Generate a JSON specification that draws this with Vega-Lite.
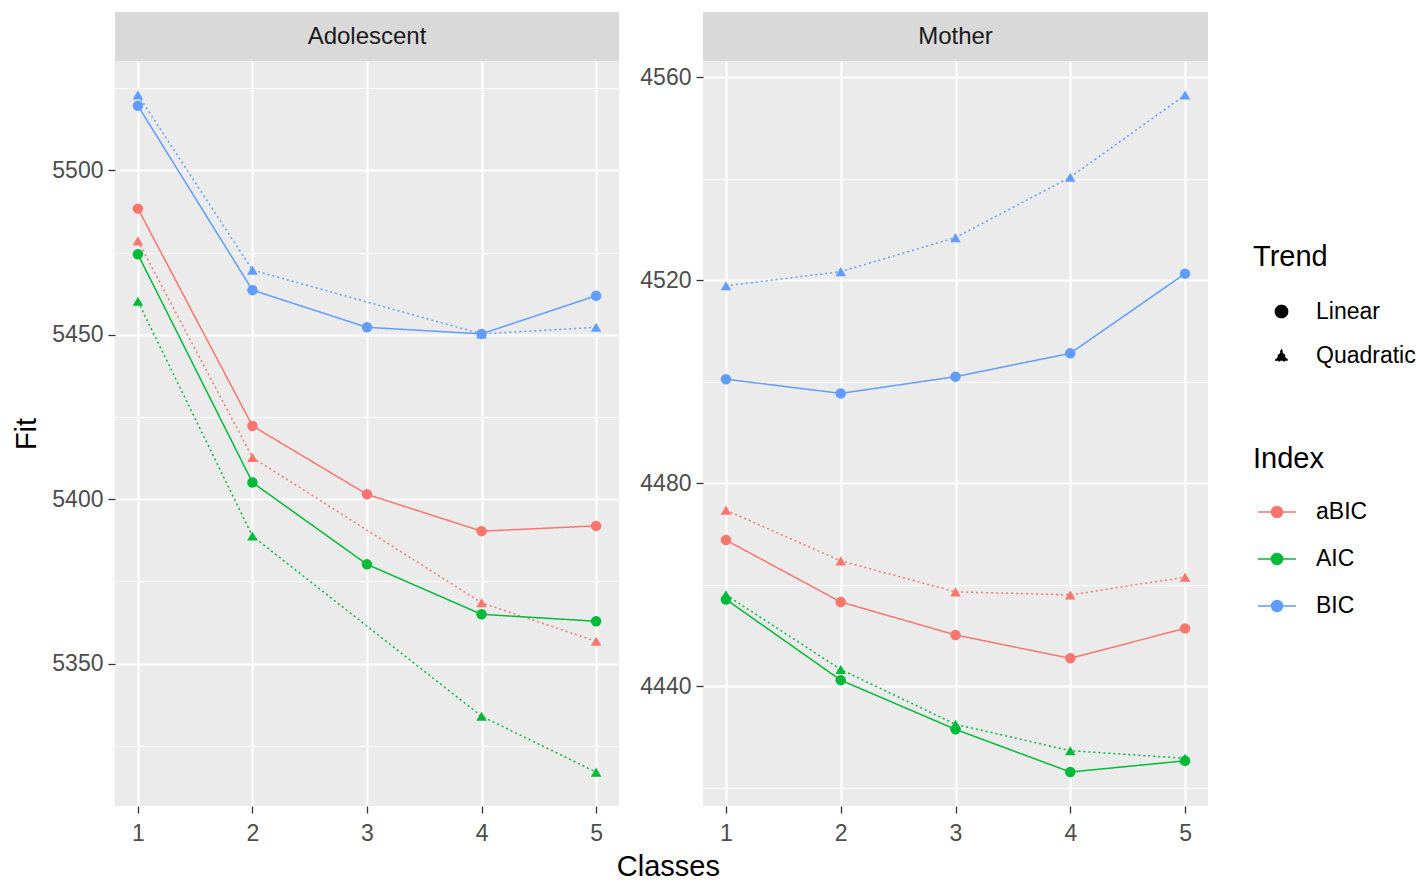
{
  "$schema": "https://vega.github.io/schema/vega-lite/v6.json",
  "autosize": {"type": "pad"},
  "padding": {"left": 12, "top": 12, "right": 5, "bottom": 5},
  "background": "white",
  "datasets": {
    "fit": [
      {"Panel": "Adolescent", "Index": "aBIC", "Trend": "Linear", "Classes": 1, "Fit": 5488.4},
      {"Panel": "Adolescent", "Index": "aBIC", "Trend": "Linear", "Classes": 2, "Fit": 5422.3},
      {"Panel": "Adolescent", "Index": "aBIC", "Trend": "Linear", "Classes": 3, "Fit": 5401.5},
      {"Panel": "Adolescent", "Index": "aBIC", "Trend": "Linear", "Classes": 4, "Fit": 5390.3},
      {"Panel": "Adolescent", "Index": "aBIC", "Trend": "Linear", "Classes": 5, "Fit": 5391.9},
      {"Panel": "Adolescent", "Index": "aBIC", "Trend": "Quadratic", "Classes": 1, "Fit": 5478.6},
      {"Panel": "Adolescent", "Index": "aBIC", "Trend": "Quadratic", "Classes": 2, "Fit": 5412.7},
      {"Panel": "Adolescent", "Index": "aBIC", "Trend": "Quadratic", "Classes": 4, "Fit": 5368.5},
      {"Panel": "Adolescent", "Index": "aBIC", "Trend": "Quadratic", "Classes": 5, "Fit": 5356.8},
      {"Panel": "Adolescent", "Index": "AIC", "Trend": "Linear", "Classes": 1, "Fit": 5474.5},
      {"Panel": "Adolescent", "Index": "AIC", "Trend": "Linear", "Classes": 2, "Fit": 5405.1},
      {"Panel": "Adolescent", "Index": "AIC", "Trend": "Linear", "Classes": 3, "Fit": 5380.2},
      {"Panel": "Adolescent", "Index": "AIC", "Trend": "Linear", "Classes": 4, "Fit": 5365.0},
      {"Panel": "Adolescent", "Index": "AIC", "Trend": "Linear", "Classes": 5, "Fit": 5362.9},
      {"Panel": "Adolescent", "Index": "AIC", "Trend": "Quadratic", "Classes": 1, "Fit": 5460.2},
      {"Panel": "Adolescent", "Index": "AIC", "Trend": "Quadratic", "Classes": 2, "Fit": 5388.8},
      {"Panel": "Adolescent", "Index": "AIC", "Trend": "Quadratic", "Classes": 4, "Fit": 5334.0},
      {"Panel": "Adolescent", "Index": "AIC", "Trend": "Quadratic", "Classes": 5, "Fit": 5317.0},
      {"Panel": "Adolescent", "Index": "BIC", "Trend": "Linear", "Classes": 1, "Fit": 5519.7},
      {"Panel": "Adolescent", "Index": "BIC", "Trend": "Linear", "Classes": 2, "Fit": 5463.6},
      {"Panel": "Adolescent", "Index": "BIC", "Trend": "Linear", "Classes": 3, "Fit": 5452.3},
      {"Panel": "Adolescent", "Index": "BIC", "Trend": "Linear", "Classes": 4, "Fit": 5450.3},
      {"Panel": "Adolescent", "Index": "BIC", "Trend": "Linear", "Classes": 5, "Fit": 5461.9},
      {"Panel": "Adolescent", "Index": "BIC", "Trend": "Quadratic", "Classes": 1, "Fit": 5523.0},
      {"Panel": "Adolescent", "Index": "BIC", "Trend": "Quadratic", "Classes": 2, "Fit": 5469.7},
      {"Panel": "Adolescent", "Index": "BIC", "Trend": "Quadratic", "Classes": 4, "Fit": 5450.3},
      {"Panel": "Adolescent", "Index": "BIC", "Trend": "Quadratic", "Classes": 5, "Fit": 5452.3},
      {"Panel": "Mother", "Index": "aBIC", "Trend": "Linear", "Classes": 1, "Fit": 4468.8},
      {"Panel": "Mother", "Index": "aBIC", "Trend": "Linear", "Classes": 2, "Fit": 4456.6},
      {"Panel": "Mother", "Index": "aBIC", "Trend": "Linear", "Classes": 3, "Fit": 4450.1},
      {"Panel": "Mother", "Index": "aBIC", "Trend": "Linear", "Classes": 4, "Fit": 4445.5},
      {"Panel": "Mother", "Index": "aBIC", "Trend": "Linear", "Classes": 5, "Fit": 4451.4},
      {"Panel": "Mother", "Index": "aBIC", "Trend": "Quadratic", "Classes": 1, "Fit": 4474.7},
      {"Panel": "Mother", "Index": "aBIC", "Trend": "Quadratic", "Classes": 2, "Fit": 4464.7},
      {"Panel": "Mother", "Index": "aBIC", "Trend": "Quadratic", "Classes": 3, "Fit": 4458.6},
      {"Panel": "Mother", "Index": "aBIC", "Trend": "Quadratic", "Classes": 4, "Fit": 4458.0},
      {"Panel": "Mother", "Index": "aBIC", "Trend": "Quadratic", "Classes": 5, "Fit": 4461.5},
      {"Panel": "Mother", "Index": "AIC", "Trend": "Linear", "Classes": 1, "Fit": 4457.1},
      {"Panel": "Mother", "Index": "AIC", "Trend": "Linear", "Classes": 2, "Fit": 4441.2},
      {"Panel": "Mother", "Index": "AIC", "Trend": "Linear", "Classes": 3, "Fit": 4431.5},
      {"Panel": "Mother", "Index": "AIC", "Trend": "Linear", "Classes": 4, "Fit": 4423.1},
      {"Panel": "Mother", "Index": "AIC", "Trend": "Linear", "Classes": 5, "Fit": 4425.3},
      {"Panel": "Mother", "Index": "AIC", "Trend": "Quadratic", "Classes": 1, "Fit": 4458.0},
      {"Panel": "Mother", "Index": "AIC", "Trend": "Quadratic", "Classes": 2, "Fit": 4443.3},
      {"Panel": "Mother", "Index": "AIC", "Trend": "Quadratic", "Classes": 3, "Fit": 4432.5},
      {"Panel": "Mother", "Index": "AIC", "Trend": "Quadratic", "Classes": 4, "Fit": 4427.3},
      {"Panel": "Mother", "Index": "AIC", "Trend": "Quadratic", "Classes": 5, "Fit": 4425.8},
      {"Panel": "Mother", "Index": "BIC", "Trend": "Linear", "Classes": 1, "Fit": 4500.5},
      {"Panel": "Mother", "Index": "BIC", "Trend": "Linear", "Classes": 2, "Fit": 4497.7},
      {"Panel": "Mother", "Index": "BIC", "Trend": "Linear", "Classes": 3, "Fit": 4501.0},
      {"Panel": "Mother", "Index": "BIC", "Trend": "Linear", "Classes": 4, "Fit": 4505.6},
      {"Panel": "Mother", "Index": "BIC", "Trend": "Linear", "Classes": 5, "Fit": 4521.3},
      {"Panel": "Mother", "Index": "BIC", "Trend": "Quadratic", "Classes": 1, "Fit": 4518.9},
      {"Panel": "Mother", "Index": "BIC", "Trend": "Quadratic", "Classes": 2, "Fit": 4521.7},
      {"Panel": "Mother", "Index": "BIC", "Trend": "Quadratic", "Classes": 3, "Fit": 4528.4},
      {"Panel": "Mother", "Index": "BIC", "Trend": "Quadratic", "Classes": 4, "Fit": 4540.3},
      {"Panel": "Mother", "Index": "BIC", "Trend": "Quadratic", "Classes": 5, "Fit": 4556.5}
    ],
    "stripA": [{"Panel": "Adolescent"}],
    "stripM": [{"Panel": "Mother"}]
  },
  "title": {"text": "Classes", "orient": "bottom", "anchor": "middle", "fontSize": 29, "fontWeight": "normal", "color": "#000000", "offset": 8, "dx": -46},
  "spacing": 20,
  "hconcat": [
    {
      "spacing": 0,
      "vconcat": [
        {
          "width": 504, "height": 49,
          "view": {"fill": "#d9d9d9", "stroke": null},
          "data": {"name": "stripA"},
          "mark": {"type": "text", "fontSize": 24, "color": "#1a1a1a", "baseline": "middle", "align": "center"},
          "encoding": {"text": {"field": "Panel", "type": "nominal"}}
        },
        {
          "width": 504, "height": 745,
          "view": {"fill": "#ebebeb", "stroke": null},
          "data": {"name": "fit"},
          "transform": [{"filter": "datum.Panel === 'Adolescent'"}],
          "encoding": {
            "x": {"field": "Classes", "type": "quantitative", "scale": {"domain": [0.8, 5.2], "nice": false, "zero": false},
                  "axis": {"values": [1, 2, 3, 4, 5], "title": null, "grid": true, "gridWidth": 2, "labelPadding": 9}},
            "y": {"field": "Fit", "type": "quantitative", "scale": {"domain": [5306.7, 5533.3], "nice": false, "zero": false},
                  "axis": {"title": "Fit", "titlePadding": 10, "format": "d", "values": [5325, 5350, 5375, 5400, 5425, 5450, 5475, 5500, 5525],
                           "labelExpr": "datum.value % 50 === 0 ? datum.label : ''",
                           "gridWidth": {"condition": {"test": "datum.value % 50 === 0", "value": 2}, "value": 1},
                           "tickOpacity": {"condition": {"test": "datum.value % 50 === 0", "value": 1}, "value": 0}}},
            "color": {"field": "Index", "type": "nominal",
                      "scale": {"domain": ["aBIC", "AIC", "BIC"], "range": ["#F8766D", "#00BA38", "#619CFF"]},
                      "legend": {"title": "Index", "legendX": 1138, "legendY": 433, "rowPadding": 15, "titlePadding": 18,
                                 "symbolType": "M-1,0H1M0.29,0A0.29,0.29,0,1,1,-0.29,0A0.29,0.29,0,1,1,0.29,0Z"}}
          },
          "layer": [
            {"mark": {"type": "line", "strokeWidth": 1.5},
             "encoding": {"strokeDash": {"field": "Trend", "type": "nominal",
                                         "scale": {"domain": ["Linear", "Quadratic"], "range": [[1, 0], [2, 3]]},
                                         "legend": {"title": "Trend", "legendX": 1138, "legendY": 231, "rowPadding": 20, "titlePadding": 28, "symbolSize": 150, "symbolOffset": 17, "labelOffset": 23, "symbolFillColor": "#000000", "symbolStrokeColor": "#000000"}},
                          "detail": {"field": "Trend"}}},
            {"mark": {"type": "point", "filled": true, "opacity": 1, "size": 110},
             "encoding": {"shape": {"field": "Trend", "type": "nominal",
                                    "scale": {"domain": ["Linear", "Quadratic"], "range": ["circle", "triangle-up"]},
                                    "legend": {"title": "Trend", "legendX": 1138, "legendY": 231, "rowPadding": 20, "titlePadding": 28, "symbolSize": 150, "symbolOffset": 17, "labelOffset": 23, "symbolFillColor": "#000000", "symbolStrokeColor": "#000000"}}}}
          ]
        }
      ]
    },
    {
      "spacing": 0,
      "vconcat": [
        {
          "width": 505, "height": 49,
          "view": {"fill": "#d9d9d9", "stroke": null},
          "data": {"name": "stripM"},
          "mark": {"type": "text", "fontSize": 24, "color": "#1a1a1a", "baseline": "middle", "align": "center"},
          "encoding": {"text": {"field": "Panel", "type": "nominal"}}
        },
        {
          "width": 505, "height": 745,
          "view": {"fill": "#ebebeb", "stroke": null},
          "data": {"name": "fit"},
          "transform": [{"filter": "datum.Panel === 'Mother'"}],
          "encoding": {
            "x": {"field": "Classes", "type": "quantitative", "scale": {"domain": [0.8, 5.2], "nice": false, "zero": false},
                  "axis": {"values": [1, 2, 3, 4, 5], "title": null, "grid": true, "gridWidth": 2, "labelPadding": 9}},
            "y": {"field": "Fit", "type": "quantitative", "scale": {"domain": [4416.4, 4563.2], "nice": false, "zero": false},
                  "axis": {"title": null, "format": "d", "values": [4420, 4440, 4460, 4480, 4500, 4520, 4540, 4560],
                           "labelExpr": "datum.value % 40 === 0 ? datum.label : ''",
                           "gridWidth": {"condition": {"test": "datum.value % 40 === 0", "value": 2}, "value": 1},
                           "tickOpacity": {"condition": {"test": "datum.value % 40 === 0", "value": 1}, "value": 0}}},
            "color": {"field": "Index", "type": "nominal",
                      "scale": {"domain": ["aBIC", "AIC", "BIC"], "range": ["#F8766D", "#00BA38", "#619CFF"]},
                      "legend": {"title": "Index", "legendX": 1138, "legendY": 433, "rowPadding": 15, "titlePadding": 18,
                                 "symbolType": "M-1,0H1M0.29,0A0.29,0.29,0,1,1,-0.29,0A0.29,0.29,0,1,1,0.29,0Z"}}
          },
          "layer": [
            {"mark": {"type": "line", "strokeWidth": 1.5},
             "encoding": {"strokeDash": {"field": "Trend", "type": "nominal",
                                         "scale": {"domain": ["Linear", "Quadratic"], "range": [[1, 0], [2, 3]]},
                                         "legend": {"title": "Trend", "legendX": 1138, "legendY": 231, "rowPadding": 20, "titlePadding": 28, "symbolSize": 150, "symbolOffset": 17, "labelOffset": 23, "symbolFillColor": "#000000", "symbolStrokeColor": "#000000"}},
                          "detail": {"field": "Trend"}}},
            {"mark": {"type": "point", "filled": true, "opacity": 1, "size": 110},
             "encoding": {"shape": {"field": "Trend", "type": "nominal",
                                    "scale": {"domain": ["Linear", "Quadratic"], "range": ["circle", "triangle-up"]},
                                    "legend": {"title": "Trend", "legendX": 1138, "legendY": 231, "rowPadding": 20, "titlePadding": 28, "symbolSize": 150, "symbolOffset": 17, "labelOffset": 23, "symbolFillColor": "#000000", "symbolStrokeColor": "#000000"}}}}
          ]
        }
      ]
    }
  ],
  "resolve": {"scale": {"color": "shared", "shape": "shared", "strokeDash": "shared", "x": "independent", "y": "independent"}},
  "config": {
    "font": "Liberation Sans",
    "view": {"stroke": null},
    "axis": {
      "domain": false, "labelColor": "#4d4d4d", "labelFontSize": 23, "labelFont": "Liberation Sans",
      "tickColor": "#333333", "tickWidth": 1.3, "tickSize": 7, "labelPadding": 5,
      "gridColor": "#ffffff", "labelFlush": false, "labelOverlap": false,
      "titleColor": "#000000", "titleFontSize": 29, "titleFontWeight": "normal", "titleFont": "Liberation Sans"
    },
    "legend": {
      "orient": "none",
      "padding": 0,
      "titleFontSize": 29, "titleFontWeight": "normal", "titleColor": "#000000", "titleFont": "Liberation Sans",
      "labelFontSize": 23, "labelColor": "#000000", "labelFont": "Liberation Sans",
      "symbolSize": 1444, "symbolStrokeWidth": 1.5, "symbolOffset": 4, "labelOffset": 19
    }
  },
  "encoding": {}
}
